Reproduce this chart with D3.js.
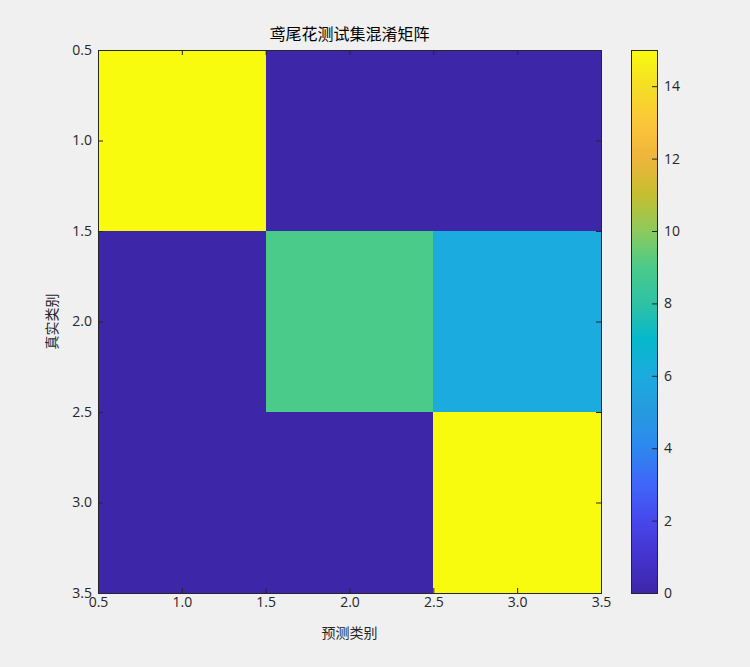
<!DOCTYPE html>
<html><head><meta charset="utf-8">
<script src="https://cdn.jsdelivr.net/npm/d3@7"></script>
<style>
html,body{margin:0;padding:0;background:#f0f0f0;}
svg{display:block;font-family:"Noto Sans CJK SC","Noto Sans",sans-serif;}
</style></head>
<body>
<svg id="c" width="750" height="667"></svg>
<script>
const classes = [1, 2, 3];
const trueLabels = [1, 2, 3];
const predLabels = [1, 2, 3];
const counts = [
  [15, 0, 0],
  [0, 9, 6],
  [0, 0, 15]
];
const axisTicks = [0.5, 1.0, 1.5, 2.0, 2.5, 3.0, 3.5];
const cbarTicks = [0, 2, 4, 6, 8, 10, 12, 14];
const titleText = "鸢尾花测试集混淆矩阵";
const xLabelText = "预测类别";
const yLabelText = "真实类别";
const parulaStops = ["#3E26A8","#4433CE","#4747EB","#3F66F9","#2D87EF","#269ADF","#1CABDE","#06B8CC","#2EC2A5","#4ACB89","#8DCA5C","#C5BF30","#EDB53B","#FCC63A","#F4DE25","#F9FB0E"];

const svg = d3.select("#c");
const L = 98, R = 601, T = 50, B = 593;
const x = d3.scaleLinear().domain([0.5, 3.5]).range([L, R]);
const y = d3.scaleLinear().domain([0.5, 3.5]).range([T, B]);
const vmax = 15;
const color = d3.scaleLinear()
  .domain(parulaStops.map((_, i) => i * vmax / (parulaStops.length - 1)))
  .range(parulaStops).interpolate(d3.interpolateRgb).clamp(true);

const cells = [];
trueLabels.forEach((t, i) => predLabels.forEach((p, j) => cells.push({t, p, v: counts[i][j]})));
svg.append("g").selectAll("rect").data(cells).join("rect")
  .attr("x", d => x(d.p - 0.5)).attr("y", d => y(d.t - 0.5))
  .attr("width", d => x(d.p + 0.5) - x(d.p - 0.5))
  .attr("height", d => y(d.t + 0.5) - y(d.t - 0.5))
  .attr("fill", d => color(d.v)).attr("shape-rendering", "crispEdges");

const fmt = d3.format(".1f");
const tl = 5;
const tickFont = "14px";
const gx = svg.append("g").attr("transform", `translate(0,${B})`)
  .call(d3.axisBottom(x).tickValues(axisTicks).tickFormat(fmt).tickSizeInner(-tl).tickSizeOuter(0).tickPadding(4));
const gxt = svg.append("g").attr("transform", `translate(0,${T})`)
  .call(d3.axisTop(x).tickValues(axisTicks).tickFormat("").tickSizeInner(-tl).tickSizeOuter(0));
const gy = svg.append("g").attr("transform", `translate(${L},0)`)
  .call(d3.axisLeft(y).tickValues(axisTicks).tickFormat(fmt).tickSizeInner(-tl).tickSizeOuter(0).tickPadding(6));
const gyr = svg.append("g").attr("transform", `translate(${R},0)`)
  .call(d3.axisRight(y).tickValues(axisTicks).tickFormat("").tickSizeInner(-tl).tickSizeOuter(0));
[gx, gxt, gy, gyr].forEach(g => {
  g.select(".domain").remove();
  g.selectAll("line").attr("stroke", "#262626");
  g.selectAll("text").attr("fill", "#262626").style("font-size", tickFont).style("font-family", "'Open Sans','Noto Sans',sans-serif");
});
svg.append("rect").attr("x", L).attr("y", T).attr("width", R - L).attr("height", B - T)
  .attr("fill", "none").attr("stroke", "#262626").attr("stroke-width", 1).attr("shape-rendering", "crispEdges");

// colorbar
const CL = 631, CR = 657;
const cy = d3.scaleLinear().domain([0, vmax]).range([B, T]);
const defs = svg.append("defs");
const grad = defs.append("linearGradient").attr("id", "cb").attr("x1", 0).attr("y1", 1).attr("x2", 0).attr("y2", 0);
parulaStops.forEach((c, i) => grad.append("stop").attr("offset", i / (parulaStops.length - 1)).attr("stop-color", c));
svg.append("rect").attr("x", CL).attr("y", T).attr("width", CR - CL).attr("height", B - T).attr("fill", "url(#cb)");
const gc = svg.append("g").attr("transform", `translate(${CR},0)`)
  .call(d3.axisRight(cy).tickValues(cbarTicks).tickFormat(d3.format("d")).tickSizeInner(-tl).tickSizeOuter(0).tickPadding(7));
gc.select(".domain").remove();
gc.selectAll("line").attr("stroke", "#262626");
gc.selectAll("text").attr("fill", "#262626").style("font-size", tickFont).style("font-family", "'Open Sans','Noto Sans',sans-serif");
svg.append("rect").attr("x", CL).attr("y", T).attr("width", CR - CL).attr("height", B - T)
  .attr("fill", "none").attr("stroke", "#262626").attr("shape-rendering", "crispEdges");

// texts
svg.append("text").attr("x", (L + R) / 2).attr("y", 40).attr("text-anchor", "middle")
  .style("font-size", "16px").attr("fill", "#000").text(titleText);
svg.append("text").attr("x", (L + R) / 2).attr("y", 638).attr("text-anchor", "middle")
  .style("font-size", "14px").attr("fill", "#262626").text(xLabelText);
svg.append("text").attr("transform", `translate(57,${(T + B) / 2}) rotate(-90)`).attr("text-anchor", "middle")
  .style("font-size", "14px").attr("fill", "#262626").text(yLabelText);
</script>
</body></html>
